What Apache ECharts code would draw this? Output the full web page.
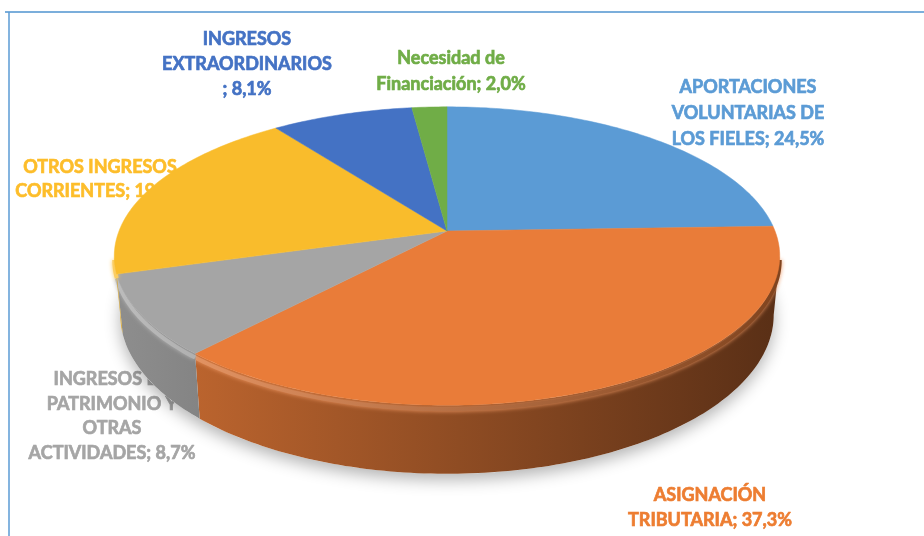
<!DOCTYPE html>
<html><head><meta charset="utf-8">
<script src="https://cdn.jsdelivr.net/npm/echarts@6/dist/echarts.min.js"></script>
<style>html,body{margin:0;padding:0;background:#fff}#c{width:924px;height:536px}</style>
</head><body><div id="c"></div>
<script>
// ---- data ----
const categories = ['APORTACIONES\nVOLUNTARIAS DE\nLOS FIELES', 'ASIGNACIÓN\nTRIBUTARIA', 'INGRESOS DE\nPATRIMONIO Y\nOTRAS\nACTIVIDADES', 'OTROS INGRESOS\nCORRIENTES', 'INGRESOS\nEXTRAORDINARIOS\n', 'Necesidad de\nFinanciación'];
const values = [24.5, 37.3, 8.7, 19.5, 8.1, 2.0];
const colors = ['#5B9BD5', '#E97C39', '#A5A5A5', '#F9BC2C', '#4472C4', '#70AD47'];
const labelColors = ['#5B9BD5', '#ED7D31', '#A5A5A5', '#FDBD2A', '#4472C4', '#70AD47'];

// ---- layout (not data) ----
const labelPos = [[748, 74, 26], [710, 483, 25], [112, 367, 24.5], [100, 155, 24], [247, 27, 25], [451, 45, 26]];
const CX = 447, CY = 231, A = 328, B = 145, K = 0.168, H = 57, BOTX = 0.982;
const total = values.reduce((a, b) => a + b, 0);
const starts = [];
values.reduce((acc, v) => { starts.push(acc / total * 2 * Math.PI); return acc + v; }, 0);
const FRONT0 = Math.acos(-K), FRONT1 = 2 * Math.PI - Math.acos(-K);

function proj(theta, r) {
  const u = r * Math.sin(theta), v = -r * Math.cos(theta);
  const s = 1 / (1 - K * v);
  return [CX + A * u * s, CY + B * v * s, s];
}
function shade(hex, f) {
  const n = parseInt(hex.slice(1), 16);
  const r = Math.round(((n >> 16) & 255) * f), g = Math.round(((n >> 8) & 255) * f), b = Math.round((n & 255) * f);
  return 'rgb(' + r + ',' + g + ',' + b + ')';
}
function tint(hex, f) {
  const n = parseInt(hex.slice(1), 16);
  const c = [(n >> 16) & 255, (n >> 8) & 255, n & 255].map(x => Math.round(x + (255 - x) * f));
  return 'rgb(' + c.join(',') + ')';
}
function arc(a0, a1, bottom) {
  const pts = [];
  const n = Math.max(2, Math.ceil((a1 - a0) / (Math.PI / 180)));
  for (let j = 0; j <= n; j++) {
    const t = a0 + (a1 - a0) * j / n;
    const p = proj(t, 1);
    pts.push(bottom ? [CX + (p[0] - CX) * BOTX, p[1] + H * p[2]] : [p[0], p[1]]);
  }
  return pts;
}
function fmt(v) { return v.toFixed(1).replace('.', ','); }

const chart = echarts.init(document.getElementById('c'), null, { renderer: 'canvas' });
chart.setOption({
  backgroundColor: '#fff',
  animation: false,
  graphic: [
    { type: 'line', z: 0, shape: { x1: 5, y1: 12, x2: 924, y2: 12 }, style: { stroke: '#4F93CF', lineWidth: 1.5 } },
    { type: 'line', z: 0, shape: { x1: 9, y1: 12, x2: 9, y2: 536 }, style: { stroke: '#5B9BD5', lineWidth: 1.5 } }
  ].concat(categories.map((c, i) => ({
    type: 'text', z: 0, x: labelPos[i][0], y: labelPos[i][1],
    style: {
      text: c + '; ' + fmt(values[i]) + '%', fill: labelColors[i], stroke: labelColors[i], lineWidth: 0.7,
      font: 'bold 18px Lato', textAlign: 'center', textVerticalAlign: 'top', lineHeight: labelPos[i][2]
    }
  }))),
  series: [{
    type: 'custom', coordinateSystem: 'none', z: 5,
    data: values.map(v => [v]),
    renderItem: function (params, api) {
      const i = params.dataIndex;
      const a0 = starts[i], a1 = a0 + api.value(0) / total * 2 * Math.PI;
      const col = colors[i];
      const children = [];
      if (i === 0) {
        children.push({ type: 'polygon', shape: { points: arc(0, 2 * Math.PI, true) },
          style: { fill: '#fff', shadowBlur: 16, shadowColor: 'rgba(0,0,0,0.3)', shadowOffsetY: 6 } });
      }
      const lo = Math.max(a0, FRONT0), hi = Math.min(a1, FRONT1);
      if (hi > lo) {
        const topPts = arc(lo, hi, false), botPts = arc(lo, hi, true).reverse();
        children.push({ type: 'polygon', shape: { points: topPts.concat(botPts) },
          style: { fill: { type: 'linear', x: 115, y: 0, x2: 780, y2: 0, global: true,
            colorStops: [{ offset: 0, color: shade(col, 0.86) }, { offset: 1, color: shade(col, 0.38) }] },
            stroke: 'rgba(0,0,0,0)' } });
        children.push({ type: 'polyline', shape: { points: topPts.map(p => [p[0], p[1] + 4]) },
          style: { stroke: { type: 'linear', x: 115, y: 0, x2: 780, y2: 0, global: true,
            colorStops: [{ offset: 0, color: tint(col, 0.25) }, { offset: 1, color: shade(col, 0.55) }] },
            lineWidth: 4, fill: null, shadowBlur: 4, shadowColor: tint(col, 0.2) } });
      }
      const pts = [[CX, CY]].concat(arc(a0, a1, false));
      children.push({ type: 'polygon', shape: { points: pts }, style: { fill: col, stroke: col, lineWidth: 0.5 } });
      return { type: 'group', children: children };
    }
  }]
});
</script></body></html>
